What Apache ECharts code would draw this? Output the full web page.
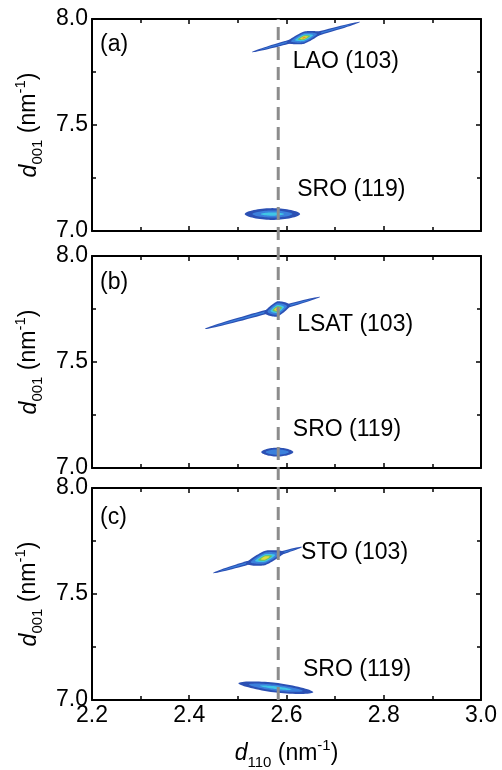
<!DOCTYPE html>
<html>
<head>
<meta charset="utf-8">
<script src="https://cdn.jsdelivr.net/npm/echarts@6/dist/echarts.min.js"></script>
<style>
  html, body { margin: 0; padding: 0; background: #fff; }
  #chart { width: 502px; height: 770px; }
</style>
</head>
<body>
<div id="chart"></div>
<script>
// ---- panel tags and reflection labels ----
const panelTags = ['(a)', '(b)', '(c)'];
const substrateNames = ['LAO (103)', 'LSAT (103)', 'STO (103)'];
const filmNames = ['SRO (119)', 'SRO (119)', 'SRO (119)'];

// ---- axis ranges (nm^-1) ----
const xRange = [2.2, 3.0];
const yRange = [7.0, 8.0];
const xStep = 0.2;
const yStep = 0.5;

// ---- substrate (103) reflections: centre, streak ends, half widths, peak level ----
const substrateCenter = [[2.636, 7.912], [2.581, 7.750], [2.556, 7.670]];
const substrateStreakStart = [[2.529, 7.844], [2.432, 7.656], [2.449, 7.599]];
const substrateStreakEnd = [[2.751, 7.986], [2.669, 7.807], [2.632, 7.722]];
const substrateHalfWidth = [[0.036, 0.029], [0.027, 0.036], [0.040, 0.034]];
const substratePeakLevel = [5, 5, 4];

// ---- SRO (119) film reflections ----
const filmCenter = [[2.571, 7.080], [2.581, 7.075], [2.578, 7.058]];
const filmHalfWidth = [[0.057, 0.028], [0.033, 0.021], [0.077, 0.023]];
const filmTilt = [0, 0, -0.021];
const filmPeakLevel = [2, 1, 2];

// in-plane position of the SRO film
const referenceQx = 2.583;

// label anchors in data coordinates
const substrateLabelAt = [[2.613, 7.797], [2.622, 7.675], [2.630, 7.693]];
const filmLabelAt = [[2.622, 7.193], [2.613, 7.179], [2.634, 7.142]];

// ---- styling ----
const levelColors = ['#2b50b4', '#3b80dc', '#40c6e6', '#70c35a', '#e2dc3c', '#f08c2c'];
const FONT = "'Liberation Sans', Arial, Helvetica, sans-serif";
const FS = 23;
const gridTops = [19, 256, 488];
const gridHeight = 212;
const gridLeft = 92;
const gridWidth = 389;

// contour layers: [cx, cy, ux, uy, h, level, shapeExponent]
function buildLayers(i) {
  const layers = [];
  // substrate streak
  const s = substrateStreakStart[i], e = substrateStreakEnd[i];
  const mx = (s[0] + e[0]) / 2, my = (s[1] + e[1]) / 2;
  const ux = (e[0] - s[0]) / 2, uy = (e[1] - s[1]) / 2;
  layers.push([mx, my, ux, uy, 0.010, 0, 1]);
  layers.push([mx, my, ux * 0.85, uy * 0.85, 0.0035, 1, 1]);
  // substrate peak
  const slope = (e[1] - s[1]) / (e[0] - s[0]);
  const c = substrateCenter[i], w = substrateHalfWidth[i];
  const scales = [1, 0.75, 0.52, 0.36, 0.23, 0.12];
  for (let l = 0; l <= substratePeakLevel[i]; l++) {
    const k = scales[l];
    layers.push([c[0], c[1], w[0] * k, w[0] * k * slope, w[1] * k, l, 1.5]);
  }
  // film peak
  const fc = filmCenter[i], fw = filmHalfWidth[i];
  const fx = [1, 0.72, 0.42], fy = [1, 0.6, 0.28];
  for (let l = 0; l <= filmPeakLevel[i]; l++) {
    layers.push([fc[0], fc[1], fw[0] * fx[l], filmTilt[i] * fx[l], fw[1] * fy[l], l, 1.15]);
  }
  return layers;
}

function renderLayer(params, api) {
  const cx = api.value(0), cy = api.value(1);
  const ux = api.value(2), uy = api.value(3), h = api.value(4);
  const lvl = api.value(5), p = api.value(6);
  const pts = [];
  const N = 72;
  for (let k = 0; k < N; k++) {
    const t = 2 * Math.PI * k / N;
    const co = Math.cos(t), si = Math.sin(t);
    const a = Math.sign(co) * Math.pow(Math.abs(co), p);
    const b = Math.sign(si) * Math.pow(Math.abs(si), p);
    pts.push(api.coord([cx + ux * a, cy + uy * a + h * b]));
  }
  return { type: 'polygon', shape: { points: pts }, style: { fill: levelColors[lvl] }, silent: true };
}

const richName = {
  i: { fontFamily: FONT, fontSize: FS, fontStyle: 'italic', lineHeight: 32, verticalAlign: 'middle', color: '#000' },
  n: { fontFamily: FONT, fontSize: FS, lineHeight: 32, verticalAlign: 'middle', color: '#000' },
  sub: { fontFamily: FONT, fontSize: 15, lineHeight: 15, verticalAlign: 'bottom', color: '#000' },
  sup: { fontFamily: FONT, fontSize: 15, lineHeight: 15, verticalAlign: 'top', color: '#000' }
};

const lineStyle = { color: '#000', width: 2 };
function tickCfg() { return { show: true, inside: true, length: 5, lineStyle: { color: '#000', width: 1.5 } }; }
function minorCfg() { return { show: true, splitNumber: 2, length: 4, lineStyle: { color: '#000', width: 1.5 } }; }

const grids = [], xAxes = [], yAxes = [], series = [];
for (let i = 0; i < 3; i++) {
  grids.push({ left: gridLeft, top: gridTops[i], width: gridWidth, height: gridHeight, outerBoundsMode: 'none', containLabel: false });
  const last = i === 2;
  xAxes.push({
    type: 'value', gridIndex: i, position: 'bottom', min: xRange[0], max: xRange[1], interval: xStep,
    axisLine: { show: true, onZero: false, lineStyle }, axisTick: tickCfg(), minorTick: minorCfg(),
    splitLine: { show: false }, minorSplitLine: { show: false },
    axisLabel: { show: last, fontFamily: FONT, fontSize: FS, color: '#000', margin: 4,
      formatter: v => v.toFixed(1) },
    name: last ? '{i|d}{sub|110}{n| (nm}{sup|-1}{n|)}' : '',
    nameLocation: 'middle', nameGap: 38, nameTextStyle: { rich: richName }
  });
  xAxes.push({
    type: 'value', gridIndex: i, position: 'top', min: xRange[0], max: xRange[1], interval: xStep,
    axisLine: { show: true, onZero: false, lineStyle }, axisTick: tickCfg(), minorTick: minorCfg(),
    splitLine: { show: false }, axisLabel: { show: false }
  });
  yAxes.push({
    type: 'value', gridIndex: i, position: 'left', min: yRange[0], max: yRange[1], interval: yStep,
    axisLine: { show: true, onZero: false, lineStyle }, axisTick: tickCfg(), minorTick: minorCfg(),
    splitLine: { show: false }, minorSplitLine: { show: false },
    axisLabel: { fontFamily: FONT, fontSize: FS, color: '#000', margin: 4, formatter: v => v.toFixed(1) },
    name: '{i|d}{sub|001}{n| (nm}{sup|-1}{n|)}',
    nameLocation: 'middle', nameGap: 41, nameRotate: 90, nameTextStyle: { rich: richName }
  });
  yAxes.push({
    type: 'value', gridIndex: i, position: 'right', min: yRange[0], max: yRange[1], interval: yStep,
    axisLine: { show: true, onZero: false, lineStyle }, axisTick: tickCfg(), minorTick: minorCfg(),
    splitLine: { show: false }, axisLabel: { show: false }
  });

  series.push({
    type: 'custom', xAxisIndex: 2 * i, yAxisIndex: 2 * i, clip: true,
    renderItem: renderLayer, encode: { x: 0, y: 1 },
    data: buildLayers(i), z: 2, silent: true
  });
  series.push({
    type: 'scatter', xAxisIndex: 2 * i, yAxisIndex: 2 * i, symbolSize: 0, silent: true, z: 5,
    data: [
      { name: substrateNames[i], value: substrateLabelAt[i] },
      { name: filmNames[i], value: filmLabelAt[i] }
    ],
    label: { show: true, position: 'right', distance: 0, formatter: p => p.data.name,
      fontFamily: FONT, fontSize: FS, color: '#000', opacity: 1, textBorderWidth: 0 }
  });
}

// overlay grid spanning all panels for the vertical reference line
grids.push({ left: gridLeft, top: gridTops[0], width: gridWidth, height: gridTops[2] + gridHeight - gridTops[0], outerBoundsMode: 'none' });
xAxes.push({ type: 'value', gridIndex: 3, min: xRange[0], max: xRange[1], show: false });
yAxes.push({ type: 'value', gridIndex: 3, min: 0, max: 1, show: false });
series.push({
  type: 'line', xAxisIndex: 6, yAxisIndex: 6, symbol: 'none', silent: true, z: 10,
  data: [[referenceQx, 0], [referenceQx, 1]],
  lineStyle: { type: [13, 7], color: '#8c8c8c', width: 3 }
});

const tagTops = [33, 271, 506];
const graphic = panelTags.map((t, i) => ({
  type: 'text', left: 100, top: tagTops[i], z: 20,
  style: { text: t, fontFamily: FONT, fontSize: FS, fill: '#000' }
}));

const chart = echarts.init(document.getElementById('chart'), null, { renderer: 'canvas' });
chart.setOption({
  animation: false,
  backgroundColor: '#fff',
  grid: grids, xAxis: xAxes, yAxis: yAxes, series, graphic
});
</script>
</body>
</html>
